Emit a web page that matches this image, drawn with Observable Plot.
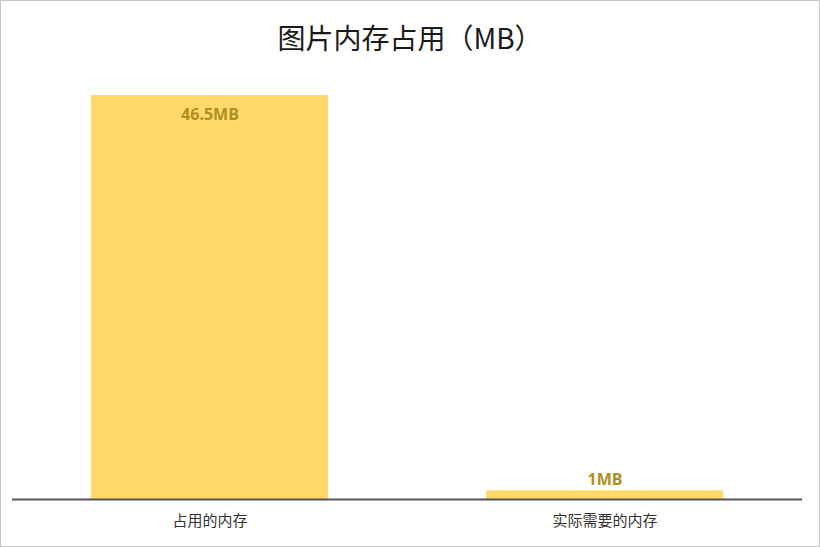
<!DOCTYPE html>
<html>
<head>
<meta charset="utf-8">
<script src="https://cdn.jsdelivr.net/npm/d3@7"></script>
<script src="https://cdn.jsdelivr.net/npm/@observablehq/plot@0.6"></script>
<style>
  html, body { margin: 0; padding: 0; background: #fff; }
  #wrap { position: relative; width: 820px; height: 547px; overflow: hidden; background: #fff; }
  #frame { position: absolute; left: 0; top: 0; width: 820px; height: 547px; box-sizing: border-box; border: 1px solid #c6c6c6; pointer-events: none; }
  #title { height: 70px; line-height: 74px; text-align: center; font-family: "Noto Sans CJK SC", "Noto Sans", sans-serif; font-size: 28px; color: #1a1a1a; }
  #chart svg { display: block; }
</style>
</head>
<body>
<div id="wrap">
  <div id="title">图片内存占用（MB）</div>
  <div id="chart"></div>
  <div id="frame"></div>
</div>
<script>
const categories = ["占用的内存", "实际需要的内存"];
const values = [46.5, 1];
const valueLabels = ["46.5MB", "1MB"];

const data = categories.map((c, i) => ({category: c, value: values[i], label: valueLabels[i]}));

const chart = Plot.plot({
  width: 820,
  height: 477,
  marginTop: 25,
  marginBottom: 48,
  marginLeft: 12,
  marginRight: 18,
  style: {fontFamily: "'Noto Sans CJK SC', 'Noto Sans', sans-serif", background: "transparent"},
  x: {domain: categories, paddingInner: 0.4, paddingOuter: 0.2, label: null},
  y: {domain: [0, 46.5], axis: null},
  marks: [
    Plot.barY(data, {x: "category", y: "value", fill: "#ffd96a"}),
    Plot.ruleY([0], {stroke: "#555555", strokeWidth: 2}),
    Plot.axisX({tickSize: 0, tickPadding: 16, fontSize: 15, color: "#333", label: null}),
    Plot.text(data.filter(d => d.value > 10), {x: "category", y: "value", text: "label", dy: 19, fill: "#b08f22", fontSize: 16, fontWeight: "bold", fontFamily: "'Open Sans', 'Noto Sans', sans-serif"}),
    Plot.text(data.filter(d => d.value <= 10), {x: "category", y: "value", text: "label", dy: -11, fill: "#b08f22", fontSize: 16, fontWeight: "bold", fontFamily: "'Open Sans', 'Noto Sans', sans-serif"})
  ]
});
document.getElementById("chart").appendChild(chart);
</script>
</body>
</html>
